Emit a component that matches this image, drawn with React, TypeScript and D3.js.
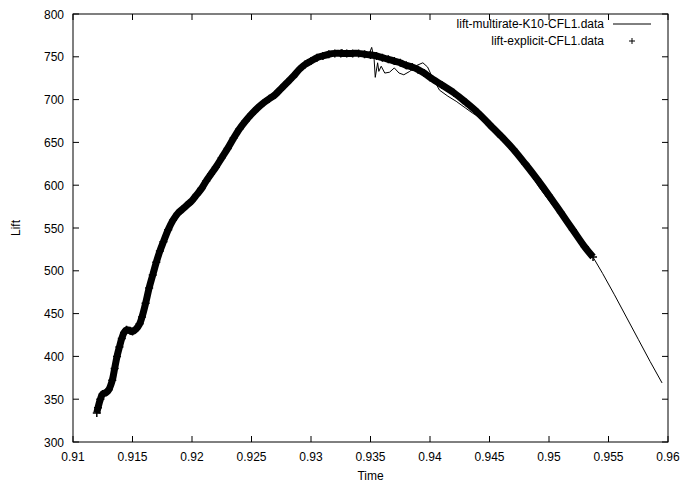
import React from "react";
import * as d3 from "d3";

const W = 684;
const H = 487;

const xTicks = [0.91, 0.915, 0.92, 0.925, 0.93, 0.935, 0.94, 0.945, 0.95, 0.955, 0.96];
const xTickLabels = ["0.91", "0.915", "0.92", "0.925", "0.93", "0.935", "0.94", "0.945", "0.95", "0.955", "0.96"];
const yTicks = [300, 350, 400, 450, 500, 550, 600, 650, 700, 750, 800];

const seriesNames = ["lift-multirate-K10-CFL1.data", "lift-explicit-CFL1.data"];

// explicit run (dense "+" points forming the thick band)
const explicitTime = [
  0.912, 0.9121, 0.9123, 0.9125, 0.9128, 0.913, 0.9133, 0.9135, 0.9137, 0.9139,
  0.9141, 0.9143, 0.9145, 0.9148, 0.915, 0.9153, 0.9156, 0.9158, 0.9161, 0.9164,
  0.9167, 0.917, 0.9173, 0.9176, 0.918, 0.9184, 0.9188, 0.9192, 0.9196, 0.92,
  0.9204, 0.9208, 0.9212, 0.9216, 0.922, 0.9225, 0.923, 0.9235, 0.924, 0.9245,
  0.925, 0.9255, 0.926, 0.9265, 0.927, 0.9275, 0.928, 0.9285, 0.929, 0.9295,
  0.93, 0.9305, 0.931, 0.9315, 0.932, 0.9325, 0.933, 0.9335, 0.934, 0.9345,
  0.935, 0.9355, 0.936, 0.9365, 0.937, 0.9375, 0.938, 0.9385, 0.939, 0.9395,
  0.94, 0.941, 0.942, 0.943, 0.944, 0.945, 0.946, 0.947, 0.948, 0.949,
  0.95, 0.951, 0.952, 0.953, 0.9537,
];
const explicitLift = [
  334, 340, 350, 356, 358, 361, 372, 386, 400, 411,
  421, 428, 431, 430, 429, 432, 438, 446, 462, 480,
  495, 510, 523, 534, 548, 559, 567, 572, 577, 582,
  589, 596, 605, 613, 621, 632, 643, 655, 666, 675,
  683, 690, 696, 701, 706, 713, 720, 727, 735, 741,
  745, 749, 751, 753, 754, 754, 754, 754, 754, 753,
  752, 751, 749, 747, 745, 743, 740, 738, 735, 731,
  726, 717, 708, 697, 685, 671, 657, 642, 625, 607,
  588, 568, 548, 528, 516,
];

// multirate run (thin line)
const multirateTime = [
  0.912, 0.9121, 0.9123, 0.9125, 0.9128, 0.913, 0.9133, 0.9135, 0.9137, 0.9139,
  0.9141, 0.9143, 0.9145, 0.9148, 0.915, 0.9153, 0.9156, 0.9158, 0.9161, 0.9164,
  0.9167, 0.917, 0.9173, 0.9176, 0.918, 0.9184, 0.9188, 0.9192, 0.9196, 0.92,
  0.9204, 0.9208, 0.9212, 0.9216, 0.922, 0.9225, 0.923, 0.9235, 0.924, 0.9245,
  0.925, 0.9255, 0.926, 0.9265, 0.927, 0.9275, 0.928, 0.9285, 0.929, 0.9295,
  0.93, 0.9305, 0.931, 0.9315, 0.932, 0.9325, 0.9326, 0.9327, 0.9335, 0.9345,
  0.9349, 0.9351, 0.9353, 0.9354, 0.9356, 0.9357, 0.9359, 0.9362, 0.9366, 0.937,
  0.9374, 0.9378, 0.9383, 0.9389, 0.9394, 0.9398, 0.9402, 0.9408, 0.9415, 0.9422,
  0.943, 0.9436, 0.9442, 0.945, 0.946, 0.947, 0.9478, 0.9485, 0.9492, 0.95,
  0.951, 0.952, 0.953, 0.9537, 0.9545, 0.9555, 0.9565, 0.9575, 0.9585, 0.9595,
];
const multirateLift = [
  334, 340, 350, 356, 358, 361, 372, 386, 400, 411,
  421, 428, 431, 430, 429, 432, 438, 446, 462, 480,
  495, 510, 523, 534, 548, 559, 567, 572, 577, 582,
  589, 596, 605, 613, 621, 632, 643, 655, 666, 675,
  683, 690, 696, 701, 706, 713, 720, 727, 735, 741,
  745, 749, 751, 753, 754, 755, 759, 755, 754, 753,
  754, 761, 748, 726, 743, 733, 739, 731, 732, 737,
  731, 729, 733, 740, 743, 738, 726, 711, 704, 698,
  690, 684, 679, 671, 657, 641, 626, 612, 597, 582,
  564, 546, 527, 516, 497, 472, 446, 420, 394, 369,
];

const margin = { left: 73, right: 16, top: 14, bottom: 45 };

export default function App() {
  const x = d3.scaleLinear().domain([0.91, 0.96]).range([margin.left, W - margin.right]);
  const y = d3.scaleLinear().domain([300, 800]).range([H - margin.bottom, margin.top]);
  const x0 = margin.left, x1 = W - margin.right, y0 = H - margin.bottom, y1 = margin.top;

  const explicitPts: [number, number][] = explicitTime.map((t, i) => [x(t), y(explicitLift[i])]);
  const multiPts: [number, number][] = multirateTime.map((t, i) => [x(t), y(multirateLift[i])]);

  const smooth = d3.line().curve(d3.curveCatmullRom.alpha(0.5));
  const straight = d3.line();

  const font = "'Liberation Sans', Arial, Helvetica, sans-serif";
  const tl = 6;

  return (
    <svg width={W} height={H} style={{ position: "absolute", left: 0, top: 0, background: "#fff" }} fontFamily={font} fontSize={12}>
      <rect x={0} y={0} width={W} height={H} fill="#fff" />
      {xTicks.map((t, i) => (
        <g key={"xt" + i}>
          <line x1={x(t)} x2={x(t)} y1={y0} y2={y0 - tl} stroke="#000" />
          <line x1={x(t)} x2={x(t)} y1={y1} y2={y1 + tl} stroke="#000" />
          <text x={x(t)} y={y0 + 19} textAnchor="middle" fill="#000">{xTickLabels[i]}</text>
        </g>
      ))}
      {yTicks.map((v, i) => (
        <g key={"yt" + i}>
          <line x1={x0} x2={x0 + tl} y1={y(v)} y2={y(v)} stroke="#000" />
          <line x1={x1} x2={x1 - tl} y1={y(v)} y2={y(v)} stroke="#000" />
          <text x={x0 - 9} y={y(v) + 4.5} textAnchor="end" fill="#000">{v}</text>
        </g>
      ))}
      <path d={smooth(explicitPts) || ""} fill="none" stroke="#000" strokeWidth={7} strokeLinejoin="round" />
      {explicitPts.map((p, i) => (
        <path key={"p" + i} d={`M${p[0] - 4},${p[1]}h8M${p[0]},${p[1] - 4}v8`} stroke="#000" strokeWidth={1.5} />
      ))}
      <path d={straight(multiPts) || ""} fill="none" stroke="#000" strokeWidth={1} strokeLinejoin="round" />
      <rect x={x0} y={y1} width={x1 - x0} height={y0 - y1} fill="none" stroke="#000" strokeWidth={1} />
      <text x={(x0 + x1) / 2} y={H - 7} textAnchor="middle" fill="#000">Time</text>
      <text transform={`translate(20,${(y0 + y1) / 2}) rotate(-90)`} textAnchor="middle" fill="#000">Lift</text>
      <text x={604} y={28} textAnchor="end" fill="#000">{seriesNames[0]}</text>
      <line x1={613} x2={651} y1={24} y2={24} stroke="#000" strokeWidth={1} />
      <text x={604} y={45} textAnchor="end" fill="#000">{seriesNames[1]}</text>
      <path d={`M${632 - 3},41h6M632,${41 - 3}v6`} stroke="#000" strokeWidth={1} />
    </svg>
  );
}
